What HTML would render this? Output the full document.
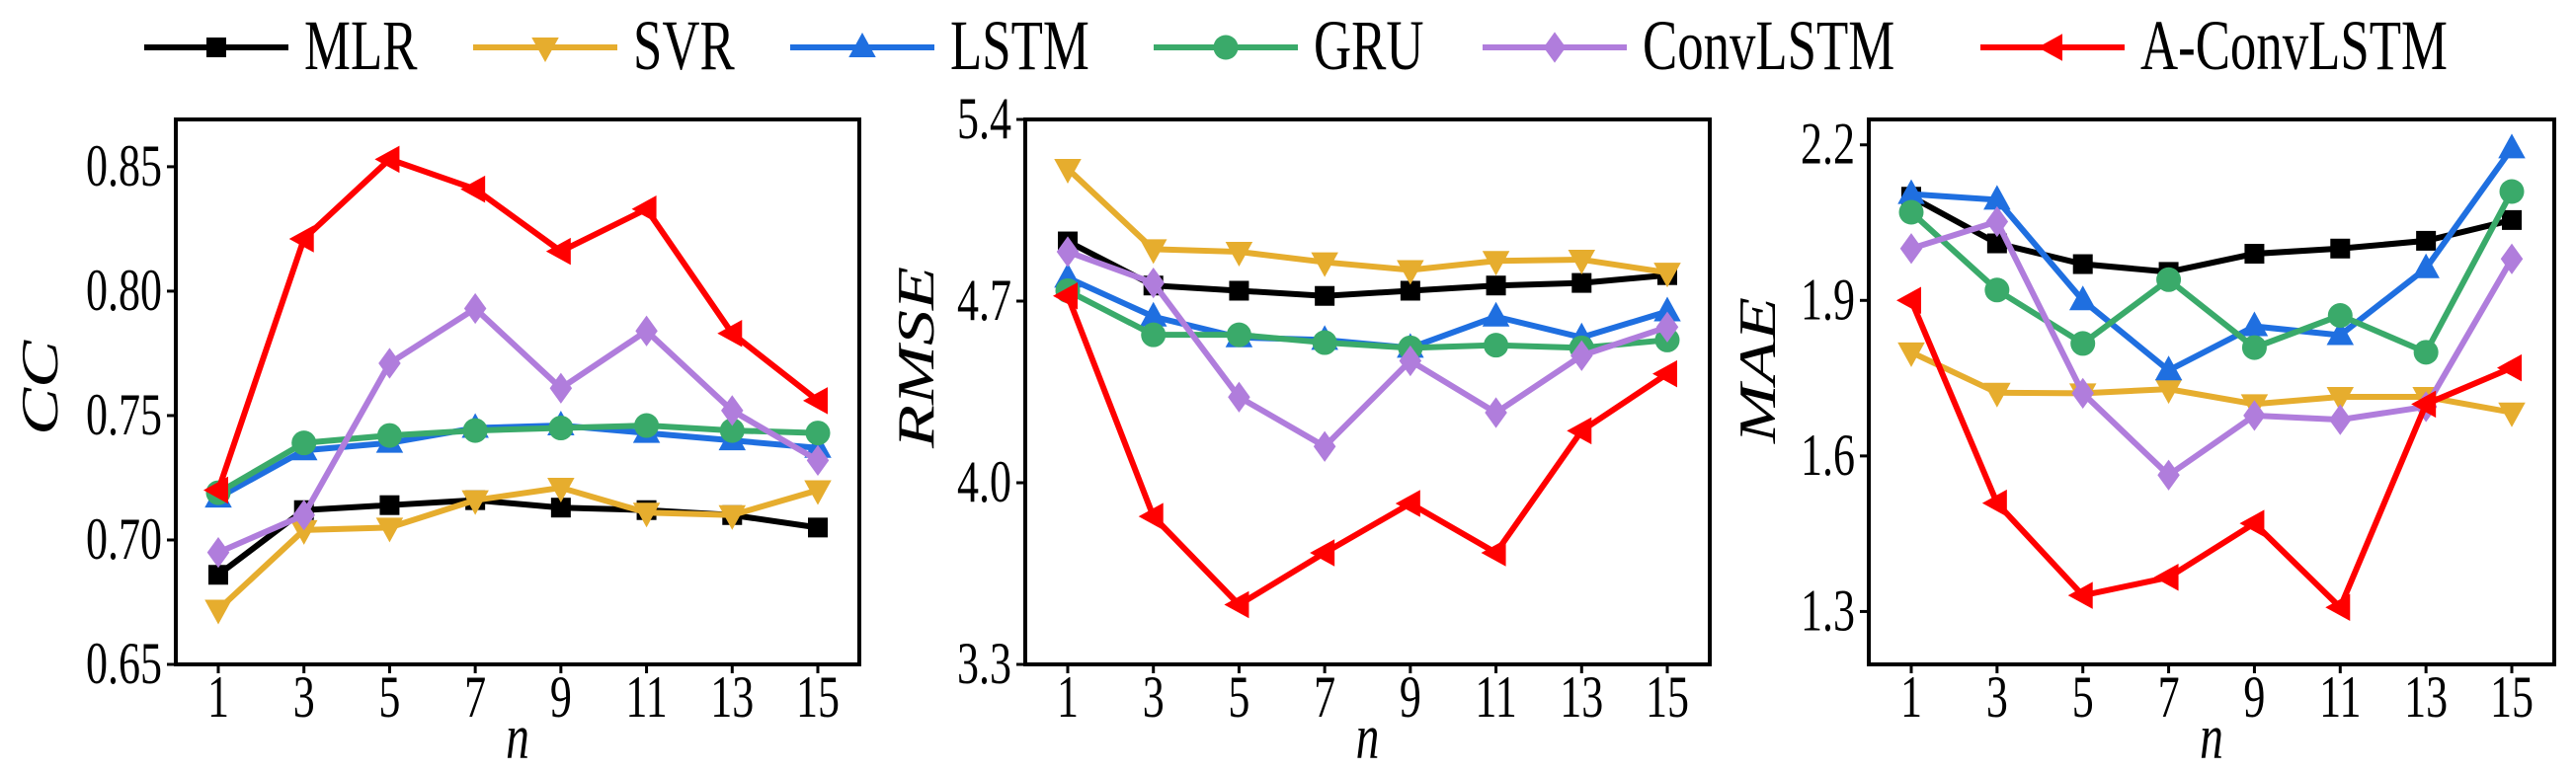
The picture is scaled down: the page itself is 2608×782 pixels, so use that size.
<!DOCTYPE html>
<html><head><meta charset="utf-8"><style>
html,body{margin:0;padding:0;background:#fff;}
svg{display:block;}
text{font-family:"Liberation Serif","DejaVu Serif","Times New Roman",serif;}
</style></head><body>
<svg id="chart" width="2608" height="782" viewBox="0 0 2608 782" xmlns="http://www.w3.org/2000/svg"></svg>
<script>
const categories = [1,3,5,7,9,11,13,15];
const seriesNames = ["MLR","SVR","LSTM","GRU","ConvLSTM","A-ConvLSTM"];
const seriesColors = ["#000000","#e6ad2e","#1f6fe0","#3aaa6a","#b07ddc","#ff0000"];
const seriesMarkers = ["square","down","up","circle","diamond","left"];

const ccMLR = [0.686,0.712,0.714,0.716,0.713,0.712,0.710,0.705];
const ccSVR = [0.672,0.704,0.705,0.716,0.721,0.711,0.710,0.720];
const ccLSTM = [0.717,0.736,0.739,0.745,0.746,0.743,0.740,0.737];
const ccGRU = [0.719,0.739,0.742,0.744,0.745,0.746,0.744,0.743];
const ccConv = [0.695,0.710,0.771,0.793,0.761,0.784,0.752,0.732];
const ccAConv = [0.720,0.821,0.853,0.841,0.816,0.833,0.783,0.756];

const rmseMLR = [4.93,4.76,4.74,4.72,4.74,4.76,4.77,4.80];
const rmseSVR = [5.21,4.90,4.89,4.85,4.82,4.855,4.86,4.81];
const rmseLSTM = [4.79,4.64,4.56,4.55,4.52,4.64,4.56,4.66];
const rmseGRU = [4.74,4.57,4.57,4.54,4.52,4.53,4.52,4.55];
const rmseConv = [4.89,4.77,4.33,4.14,4.47,4.27,4.49,4.60];
const rmseAConv = [4.72,3.87,3.53,3.73,3.92,3.73,4.20,4.42];

const maeMLR = [2.10,2.01,1.97,1.955,1.99,2.00,2.015,2.055];
const maeSVR = [1.80,1.722,1.721,1.729,1.70,1.714,1.714,1.684];
const maeLSTM = [2.105,2.094,1.90,1.765,1.85,1.833,1.962,2.193];
const maeGRU = [2.07,1.92,1.817,1.94,1.809,1.871,1.80,2.11];
const maeConv = [2.00,2.052,1.721,1.563,1.678,1.670,1.695,1.98];
const maeAConv = [1.90,1.509,1.331,1.366,1.47,1.308,1.70,1.77];

const ccTicks = ["0.65","0.70","0.75","0.80","0.85"];
const rmseTicks = ["3.3","4.0","4.7","5.4"];
const maeTicks = ["1.3","1.6","1.9","2.2"];

const NS="http://www.w3.org/2000/svg";
const svg=document.getElementById('chart');
const FF='"Liberation Serif", "DejaVu Serif", "Times New Roman", serif';
function mk(tag,attrs,parent){const e=document.createElementNS(NS,tag);for(const k in attrs)e.setAttribute(k,attrs[k]);(parent||svg).appendChild(e);return e;}
function txt(parent,x,y,size,str,anchor,italic){
  const e=mk('text',{x:0,y:0,'font-size':size,'text-anchor':anchor,fill:'#000','font-family':FF,transform:`translate(${x},${y}) scale(0.88,1.2)`},parent);
  e.style.fontFamily=FF;
  if(italic)e.setAttribute('font-style','italic');
  e.textContent=str;return e;
}

function marker(g,type,x,y,color,s){
  let e;
  if(type==="square") e=mk('rect',{x:x-s*0.8,y:y-s*0.8,width:s*1.6,height:s*1.6,fill:color},g);
  else if(type==="circle") e=mk('circle',{cx:x,cy:y,r:s,fill:color},g);
  else if(type==="up") e=mk('polygon',{points:`${x},${y-s*1.2} ${x-s*1.1},${y+s*0.8} ${x+s*1.1},${y+s*0.8}`,fill:color},g);
  else if(type==="down") e=mk('polygon',{points:`${x},${y+s*1.2} ${x-s*1.1},${y-s*0.8} ${x+s*1.1},${y-s*0.8}`,fill:color},g);
  else if(type==="left") e=mk('polygon',{points:`${x-s*1.2},${y} ${x+s*0.8},${y-s*1.1} ${x+s*0.8},${y+s*1.1}`,fill:color},g);
  else e=mk('polygon',{points:`${x},${y-s*1.25} ${x+s*0.9},${y} ${x},${y+s*1.25} ${x-s*0.9},${y}`,fill:color},g);
  return e;
}

function panel(cfg){
  const g=mk('g',{});
  
  
  const {L,R,T,B,ymin,ymax,x1,x15}=cfg;
  const xs=v=>x1+(v-1)/(14)*(x15-x1);
  const ys=v=>B-(v-ymin)/(ymax-ymin)*(B-T);
  cfg.series.forEach((arr,i)=>{
    const sg=mk('g',{},g);
    
    
    const pts=arr.map((v,j)=>xs(categories[j])+','+ys(v)).join(' ');
    mk('polyline',{points:pts,fill:'none',stroke:seriesColors[i],'stroke-width':6,'stroke-linejoin':'miter'},sg);
    arr.forEach((v,j)=>{
      const m=marker(sg,seriesMarkers[i],xs(categories[j]),ys(v),seriesColors[i],12.5);
      
      
    });
  });
  const fr=mk('rect',{x:L,y:T,width:R-L,height:B-T,fill:'none',stroke:'#000','stroke-width':4},g);
  
  
  cfg.ticks.forEach(t=>{
    const y=ys(parseFloat(t));
    mk('line',{x1:L-9,x2:L,y1:y,y2:y,stroke:'#000','stroke-width':3},g);
    const tx=txt(g,L-14,y+19,50,t,'end',false);
    
    
  });
  categories.forEach(c=>{
    const x=xs(c);
    mk('line',{x1:x,x2:x,y1:B,y2:B+9,stroke:'#000','stroke-width':3},g);
    const tx=txt(g,x,726,50,String(c),'middle',false);
    
    
  });
  const xl=txt(g,(L+R)/2,768,54,'n','middle',true);
  
  
  const yl=mk('text',{x:0,y:0,'font-size':60,'font-style':'italic','text-anchor':'middle','font-family':FF,transform:`translate(${cfg.ytx},${cfg.yty}) rotate(-90) scale(1.2,0.88)`},g);
  yl.style.fontFamily=FF;
  yl.textContent=cfg.ytitle;
  
  
}

panel({name:'cc',L:178,R:870,T:121,B:673,ymin:0.65,ymax:0.869,x1:221,x15:828,ticks:ccTicks,ytitle:'CC',ytx:58,yty:393,
  series:[ccMLR,ccSVR,ccLSTM,ccGRU,ccConv,ccAConv]});
panel({name:'rmse',L:1038,R:1731,T:121,B:673,ymin:3.3,ymax:5.4,x1:1081,x15:1688,ticks:rmseTicks,ytitle:'RMSE',ytx:945,yty:362,
  series:[rmseMLR,rmseSVR,rmseLSTM,rmseGRU,rmseConv,rmseAConv]});
panel({name:'mae',L:1892,R:2586,T:121,B:673,ymin:1.198,ymax:2.249,x1:1935,x15:2543,ticks:maeTicks,ytitle:'MAE',ytx:1797,yty:375,
  series:[maeMLR,maeSVR,maeLSTM,maeGRU,maeConv,maeAConv]});

const legX=[146,479,800,1168,1501,2005];
const lg=mk('g',{});


seriesNames.forEach((n,i)=>{
  const eg=mk('g',{},lg);
  
  
  mk('line',{x1:legX[i],x2:legX[i]+146,y1:48,y2:48,stroke:seriesColors[i],'stroke-width':6},eg);
  marker(eg,seriesMarkers[i],legX[i]+73,48,seriesColors[i],12.5);
  txt(eg,legX[i]+162,70,60,n,'start',false);
});
</script>
</body></html>
